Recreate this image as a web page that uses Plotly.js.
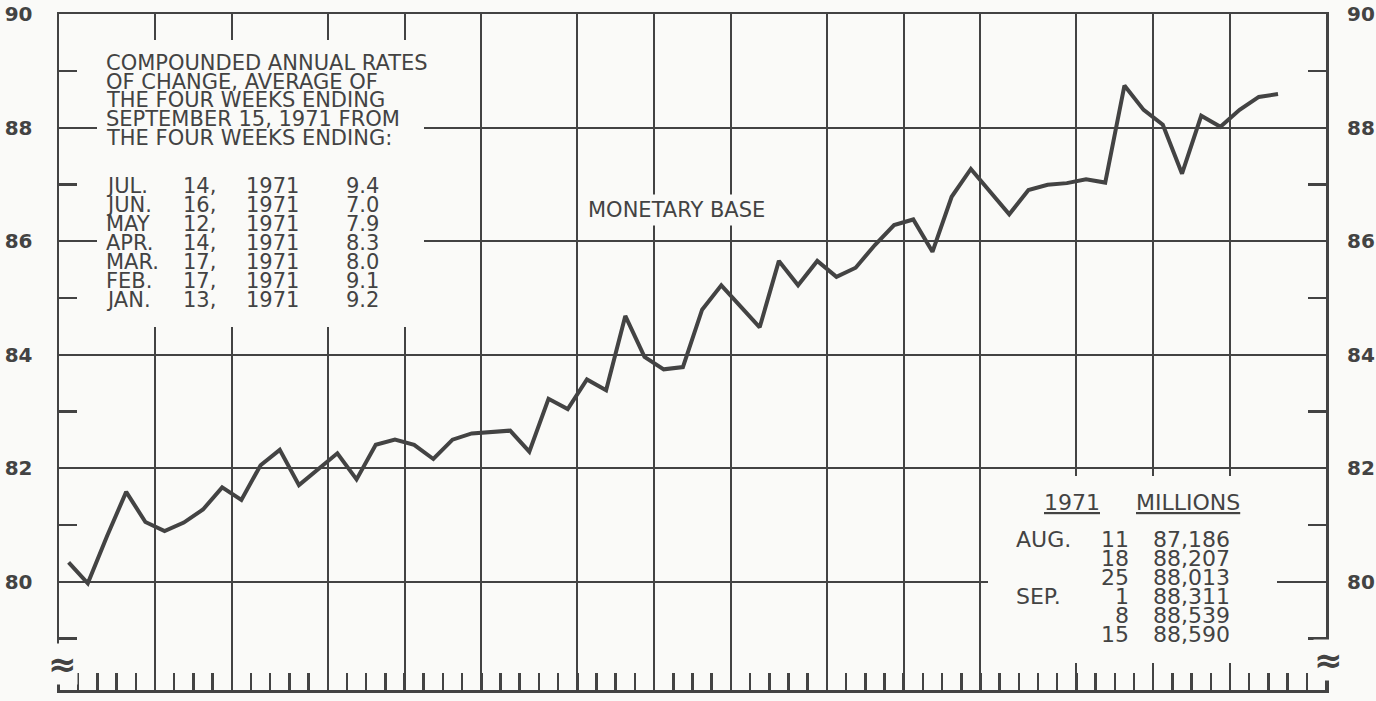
<!DOCTYPE html>
<html><head><meta charset="utf-8">
<script src="https://cdn.plot.ly/plotly-3.0.1.min.js"></script>
<style>html,body{margin:0;padding:0;background:#fafaf8;} #chart{width:1376px;height:701px;}</style>
</head><body><div id="chart"></div>
<script>
// Weekly observations (Wednesdays), July 1, 1970 .. September 15, 1971
const weekLabels = [
 '1970-07-01','1970-07-08','1970-07-15','1970-07-22','1970-07-29',
 '1970-08-05','1970-08-12','1970-08-19','1970-08-26',
 '1970-09-02','1970-09-09','1970-09-16','1970-09-23','1970-09-30',
 '1970-10-07','1970-10-14','1970-10-21','1970-10-28',
 '1970-11-04','1970-11-11','1970-11-18','1970-11-25',
 '1970-12-02','1970-12-09','1970-12-16','1970-12-23','1970-12-30',
 '1971-01-06','1971-01-13','1971-01-20','1971-01-27',
 '1971-02-03','1971-02-10','1971-02-17','1971-02-24',
 '1971-03-03','1971-03-10','1971-03-17','1971-03-24','1971-03-31',
 '1971-04-07','1971-04-14','1971-04-21','1971-04-28',
 '1971-05-05','1971-05-12','1971-05-19','1971-05-26',
 '1971-06-02','1971-06-09','1971-06-16','1971-06-23','1971-06-30',
 '1971-07-07','1971-07-14','1971-07-21','1971-07-28',
 '1971-08-04','1971-08-11','1971-08-18','1971-08-25',
 '1971-09-01','1971-09-08','1971-09-15'
];
// Monetary base, billions of dollars
const monetaryBase = [
 80.34, 79.97, 80.80, 81.58, 81.05,
 80.89, 81.04, 81.27, 81.66,
 81.44, 82.05, 82.32, 81.70, 81.97,
 82.26, 81.80, 82.41, 82.50,
 82.41, 82.16, 82.50, 82.61,
 82.63, 82.66, 82.29, 83.22, 83.04,
 83.56, 83.37, 84.68, 83.96,
 83.74, 83.78, 84.79, 85.22,
 84.85, 84.48, 85.65, 85.22, 85.65,
 85.37, 85.53, 85.93, 86.28,
 86.38, 85.81, 86.78, 87.27,
 86.88, 86.47, 86.90, 86.99, 87.02,
 87.09, 87.03, 88.74, 88.31,
 88.05, 87.186, 88.207, 88.013,
 88.311, 88.539, 88.590
];
// Number of weekly slots in each month, Jul 1970 .. Sep 1971
const monthWeeks = [5,4,5,4,4,5,4,4,5,4,4,5,4,4,5];

const yTickVals = [78.09, 80, 82, 84, 86, 88, 90];
const yTickText = ['0', '80', '82', '84', '86', '88', '90'];
const yMinorVals = [79, 81, 83, 85, 87, 89];

const noteLines = [
 'COMPOUNDED ANNUAL RATES',
 'OF CHANGE, AVERAGE OF',
 'THE FOUR WEEKS ENDING',
 'SEPTEMBER 15, 1971 FROM',
 'THE FOUR WEEKS ENDING:'
];
const rateMonths = ['JUL.', 'JUN.', 'MAY', 'APR.', 'MAR.', 'FEB.', 'JAN.'];
const rateDays = ['14,', '16,', '12,', '14,', '17,', '17,', '13,'];
const rateYears = ['1971', '1971', '1971', '1971', '1971', '1971', '1971'];
const rateValues = ['9.4', '7.0', '7.9', '8.3', '8.0', '9.1', '9.2'];

const tableHead = ['1971', 'MILLIONS'];
const tableMonths = ['AUG.', '', '', 'SEP.', '', ''];
const tableDays = ['11', '18', '25', '1', '8', '15'];
const tableValues = ['87,186', '88,207', '88,013', '88,311', '88,539', '88,590'];

const seriesName = 'MONETARY BASE';

// ---------- drawing ----------
const INK = '#434343';
const BG = '#fafaf8';
const FONT = 'DejaVu Sans, sans-serif';

const xs = weekLabels.map((_, i) => i + 0.5);
const monthEdges = [0];
monthWeeks.forEach(w => monthEdges.push(monthEdges[monthEdges.length - 1] + w));
const nWeeks = monthEdges[monthEdges.length - 1];

// plot frame in pixels (for placing text)
const L = 59, R = 1326, T = 14, B = 690;
const px = p => (p - L) / (R - L);
const py = p => (B - p) / (B - T);

const ann = [];
function txt(text, x, y, opts) {
  ann.push(Object.assign({
    text: text, xref: 'paper', yref: 'paper', x: px(x), y: py(y),
    xanchor: 'left', yanchor: 'middle', showarrow: false,
    font: {family: FONT, size: 21, color: INK}
  }, opts || {}));
}
const noteRows = [63, 81.5, 100, 119, 138];
noteLines.forEach((s, i) => txt(s, 104, noteRows[i]));
const rateRows = [186, 205, 224, 243, 262, 281, 300];
rateMonths.forEach((s, i) => {
  txt(s, 104, rateRows[i]);
  txt(rateDays[i], 181, rateRows[i]);
  txt(rateYears[i], 244, rateRows[i]);
  txt(rateValues[i], 344, rateRows[i]);
});
txt(seriesName, 584, 210, {bgcolor: BG, borderpad: 3});

const tblFont = {family: FONT, size: 22, color: INK};
txt(tableHead[0], 1042, 502, {font: Object.assign({lineposition: 'under'}, tblFont)});
txt(tableHead[1], 1134, 502, {font: Object.assign({lineposition: 'under'}, tblFont)});
const tblRows = [539, 558, 577, 596, 615, 634];
tableDays.forEach((d, i) => {
  if (tableMonths[i]) txt(tableMonths[i], 1014, tblRows[i], {font: tblFont});
  txt(d, 1131, tblRows[i], {xanchor: 'right', font: tblFont});
  txt(tableValues[i], 1151, tblRows[i], {font: tblFont});
});
// axis-break marks
const breakFont = {family: FONT, size: 34, color: INK, weight: 'bold'};
txt('≈', 62, 664, {xanchor: 'center', bgcolor: BG, borderpad: 0, font: breakFont});
txt('≈', 1328, 660, {xanchor: 'center', bgcolor: BG, borderpad: 0, font: breakFont});

const shapes = [
  {type: 'rect', xref: 'paper', yref: 'paper', x0: px(97), x1: px(424), y0: py(327), y1: py(40),
   fillcolor: BG, line: {width: 0}, layer: 'above'},
  {type: 'rect', xref: 'paper', yref: 'paper', x0: px(988), x1: px(1277), y0: py(663), y1: py(476),
   fillcolor: BG, line: {width: 0}, layer: 'above'}
];

const yCommon = {
  range: [yTickVals[0], 90], tickmode: 'array', tickvals: yTickVals, ticktext: yTickText,
  ticks: '', zeroline: false, ticklabelstandoff: 20,
  tickfont: {family: FONT, size: 20, color: INK, weight: 'bold'},
  minor: {tickmode: 'array', tickvals: yMinorVals, ticks: 'inside', ticklen: 18, tickwidth: 2.5, tickcolor: INK, showgrid: false}
};

const data = [
  {x: xs, y: monetaryBase, type: 'scatter', mode: 'lines', name: seriesName,
   text: weekLabels, hovertemplate: '%{text}: %{y}<extra></extra>',
   line: {color: INK, width: 4}},
  {x: [], y: [], type: 'scatter', mode: 'lines', yaxis: 'y2', showlegend: false, hoverinfo: 'skip'}
];

const layout = {
  width: 1376, height: 701,
  margin: {l: L, r: 1376 - R, t: T, b: 701 - B},
  paper_bgcolor: BG, plot_bgcolor: BG,
  showlegend: false,
  xaxis: {
    range: [0, nWeeks], tickmode: 'array', tickvals: monthEdges, showticklabels: false, ticks: '',
    showgrid: true, gridcolor: INK, gridwidth: 2, zeroline: false,
    showline: true, linecolor: INK, linewidth: 2.5, mirror: true,
    minor: {tick0: 0, dtick: 1, ticks: 'inside', ticklen: 17, tickwidth: 2.5, tickcolor: INK, showgrid: false}
  },
  yaxis: Object.assign({}, yCommon, {
    side: 'left', showgrid: true, gridcolor: INK, gridwidth: 2,
    showline: true, linecolor: INK, linewidth: 2.5, mirror: true
  }),
  yaxis2: Object.assign({}, yCommon, {
    side: 'right', overlaying: 'y', showgrid: false, showline: false
  }),
  shapes: shapes,
  annotations: ann
};

Plotly.newPlot('chart', data, layout, {displayModeBar: false, staticPlot: true});
</script></body></html>
